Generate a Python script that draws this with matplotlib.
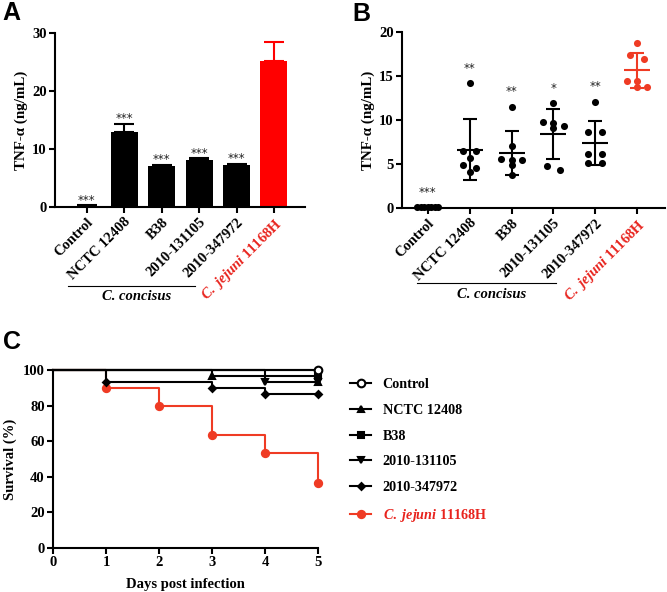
import numpy as np
import matplotlib
matplotlib.use('Agg')
import matplotlib.pyplot as plt
from matplotlib.lines import Line2D

plt.rcParams['font.family'] = ['Liberation Serif', 'DejaVu Serif']
plt.rcParams['font.weight'] = 'bold'
plt.rcParams['axes.labelweight'] = 'bold'
plt.rcParams['mathtext.fontset'] = 'custom'
plt.rcParams['mathtext.rm'] = 'Liberation Serif:bold'
plt.rcParams['mathtext.it'] = 'Liberation Serif:italic:bold'
plt.rcParams['mathtext.bf'] = 'Liberation Serif:bold'

# ---------------- data ----------------
strains = ['Control', 'NCTC 12408', 'B38', '2010-131105', '2010-347972',
           r'$\mathit{C.\ jejuni}$ 11168H']

# Panel A: bar means and upper error
tnf_mean_a = [0.2, 12.9, 7.0, 8.1, 7.2, 25.1]
tnf_err_a = [0.1, 1.4, 0.3, 0.3, 0.2, 3.3]
stars_a = ['***', '***', '***', '***', '***', '']

# Panel B: individual points
pts_control = [0.1, 0.1, 0.1, 0.1, 0.1, 0.1, 0.1]
pts_nctc = [14.2, 6.5, 6.5, 5.7, 4.9, 4.6, 4.1]
pts_b38 = [11.5, 7.0, 5.6, 5.5, 5.4, 4.9, 3.8]
pts_131105 = [11.9, 9.8, 9.7, 9.3, 9.1, 4.8, 4.3]
pts_347972 = [12.1, 8.6, 8.6, 6.1, 6.1, 5.1, 5.1]
pts_jejuni = [18.8, 17.4, 16.9, 14.4, 14.4, 13.8, 13.7]
stars_b = ['***', '**', '**', '*', '**', '']

# Panel C: survival (%) by day
days = [0, 1, 2, 3, 4, 5]
surv_control = [100, 100, 100, 100, 100, 100]
surv_nctc = [100, 100, 100, 96.7, 96.7, 93.3]
surv_b38 = [100, 100, 100, 100, 100, 96.7]
surv_131105 = [100, 100, 100, 100, 93.3, 93.3]
surv_347972 = [100, 93.3, 93.3, 90.0, 86.7, 86.7]
surv_jejuni = [100, 90.0, 80.0, 63.3, 53.3, 36.7]

RED_BAR = '#ff0000'
RED = '#ef3b24'
RED_TXT = '#e8231d'
W, H = 667, 592

fig = plt.figure(figsize=(W / 100, H / 100), dpi=100)


def style_axes(ax):
    for s in ['top', 'right']:
        ax.spines[s].set_visible(False)
    for s in ['left', 'bottom']:
        ax.spines[s].set_linewidth(1.5)
    ax.tick_params(width=1.5, length=4, labelsize=10.5, pad=2)


def fx(px):
    return px / W


def fy(py):
    return 1 - py / H


# ---------------- Panel A ----------------
axA = fig.add_axes([fx(55), fy(207), (305 - 55) / W, (207 - 33) / H])
xa = np.arange(len(strains))
colors_a = ['black'] * 5 + [RED_BAR]
axA.bar(xa, tnf_mean_a, width=0.72, color=colors_a, zorder=2)
for i in range(len(strains)):
    axA.errorbar(xa[i], tnf_mean_a[i], yerr=[[0], [tnf_err_a[i]]], color=colors_a[i],
                 capsize=7, elinewidth=1.5, capthick=1.5, zorder=1)
    if stars_a[i]:
        axA.annotate(stars_a[i], (xa[i], tnf_mean_a[i] + tnf_err_a[i]), xytext=(0, -1),
                     textcoords='offset points', ha='center', va='bottom',
                     fontsize=8.5, family='DejaVu Sans', fontweight='normal', color='#222222')
axA.set_xlim(-0.85, 5.83)
axA.set_ylim(0, 30)
axA.set_yticks([0, 10, 20, 30])
axA.set_xticks(xa)
axA.set_xticklabels(strains, rotation=45, ha='right', rotation_mode='anchor')
axA.get_xticklabels()[-1].set_color(RED_TXT)
axA.set_ylabel('TNF-α (ng/mL)', fontsize=10.8, labelpad=3)
style_axes(axA)

fig.add_artist(Line2D([fx(68), fx(195)], [fy(286), fy(286)], color='black', lw=0.8))
fig.text(fx(137), fy(296), 'C. concisus', ha='center', va='center', fontsize=10.5,
         fontstyle='italic', fontweight='bold')

# ---------------- Panel B ----------------
axB = fig.add_axes([fx(402), fy(208), (665 - 402) / W, (208 - 32) / H])
groups_b = [pts_control, pts_nctc, pts_b38, pts_131105, pts_347972, pts_jejuni]
colors_b = ['black'] * 5 + [RED]


def swarm_offsets(vals, row_tol=0.6, step=0.32, max_half=0.25):
    vals = np.asarray(vals, dtype=float)
    order = np.argsort(-vals)
    offs = np.zeros(len(vals))
    rows = []
    for idx in order:
        if rows and abs(vals[rows[-1][0]] - vals[idx]) <= row_tol:
            rows[-1].append(idx)
        else:
            rows.append([idx])
    for r in rows:
        n = len(r)
        st = step
        if (n - 1) * st / 2 > max_half:
            st = 2 * max_half / (n - 1)
        for k, idx in enumerate(r):
            offs[idx] = (k - (n - 1) / 2) * st
    return offs


for i, g in enumerate(groups_b):
    g = np.asarray(g, dtype=float)
    off = swarm_offsets(g)
    axB.scatter(i + off, g, s=26, color=colors_b[i], zorder=3, clip_on=False, linewidths=0)
    m = g.mean()
    sd = g.std(ddof=1)
    axB.hlines(m, i - 0.31, i + 0.31, color=colors_b[i], lw=1.5, zorder=2)
    axB.errorbar(i, m, yerr=sd, color=colors_b[i], capsize=5, elinewidth=1.5,
                 capthick=1.5, zorder=2)
    if stars_b[i]:
        axB.annotate(stars_b[i], (i, g.max()), xytext=(0, 6), textcoords='offset points',
                     ha='center', va='bottom', fontsize=8.5, family='DejaVu Sans',
                     fontweight='normal', color='#222222')
axB.set_xlim(-0.62, 5.67)
axB.set_ylim(0, 20)
axB.set_yticks([0, 5, 10, 15, 20])
axB.set_xticks(np.arange(len(strains)))
axB.set_xticklabels(strains, rotation=45, ha='right', rotation_mode='anchor')
axB.get_xticklabels()[-1].set_color(RED_TXT)
axB.set_ylabel('TNF-α (ng/mL)', fontsize=10.8, labelpad=3)
style_axes(axB)

fig.add_artist(Line2D([fx(417), fx(556)], [fy(283), fy(283)], color='black', lw=0.8))
fig.text(fx(492), fy(294), 'C. concisus', ha='center', va='center', fontsize=10.5,
         fontstyle='italic', fontweight='bold')

# ---------------- Panel C ----------------
axC = fig.add_axes([fx(53), fy(548), (318 - 53) / W, (548 - 370) / H])
curves = [
    (surv_control, 'Control', 'black', 'o', 'white', 5.5, 8),
    (surv_nctc, 'NCTC 12408', 'black', '^', 'black', 5, 6),
    (surv_b38, 'B38', 'black', 's', 'black', 4.5, 7),
    (surv_131105, '2010-131105', 'black', 'v', 'black', 5, 5),
    (surv_347972, '2010-347972', 'black', 'D', 'black', 3.5, 4),
    (surv_jejuni, r'$\mathit{C.\ jejuni}$ 11168H', RED, 'o', RED, 5.2, 2),
]
handles = []
for sv, lab, col, mk, mfc, ms, zo in curves:
    sv = np.asarray(sv, dtype=float)
    d = np.asarray(days, dtype=float)
    axC.step(d, sv, where='post', color=col, lw=1.5, zorder=zo, clip_on=False)
    idx = [j for j in range(1, len(sv)) if sv[j] != sv[j - 1] or j == len(sv) - 1]
    axC.plot(d[idx], sv[idx], ls='none', marker=mk, ms=ms, mfc=mfc, mec=col, mew=1.5,
             zorder=zo + 0.5, clip_on=False)
    handles.append(Line2D([], [], color=col, lw=1.5, marker=mk, ms=ms, mfc=mfc,
                          mec=col, mew=1.5))
axC.set_xlim(0, 5)
axC.set_ylim(0, 100)
axC.set_xticks(days)
axC.set_yticks([0, 20, 40, 60, 80, 100])
axC.set_xlabel('Days post infection', fontsize=10.5, labelpad=6)
axC.set_ylabel('Survival (%)', fontsize=10.5, labelpad=4)
style_axes(axC)

leg = axC.legend(handles, [c[1] for c in curves], loc='upper left',
                 bbox_to_anchor=(fx(350), fy(378)), bbox_transform=fig.transFigure,
                 frameon=False, fontsize=10.2, handlelength=1.5, handletextpad=0.8,
                 labelspacing=0.9, borderaxespad=0, borderpad=0)
leg.get_texts()[-1].set_color(RED_TXT)

# ---------------- Panel letters ----------------
for lab, x, y in [('A', 2, 13), ('B', 352, 14), ('C', 3, 342)]:
    fig.text(fx(x), fy(y), lab, ha='left', va='center', fontsize=18,
             family='Liberation Sans', fontweight='bold')

fig.savefig('out.png', dpi=100)
